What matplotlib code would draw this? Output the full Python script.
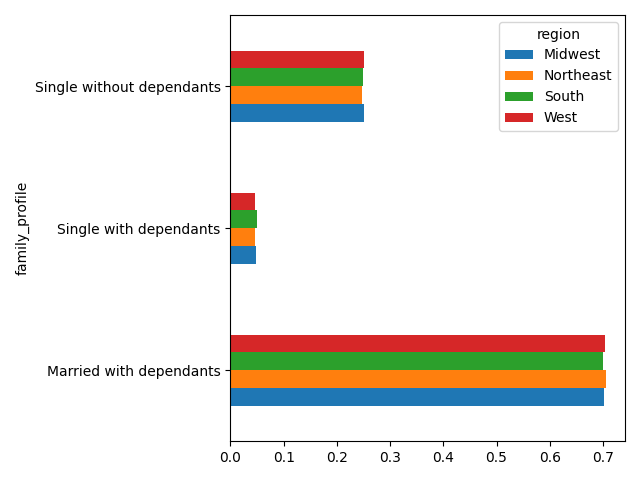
import pandas as pd
import matplotlib.pyplot as plt

family_profile = ["Married with dependants", "Single with dependants", "Single without dependants"]
midwest = [0.701, 0.048, 0.251]
northeast = [0.706, 0.047, 0.247]
south = [0.700, 0.050, 0.250]
west = [0.703, 0.046, 0.251]

df = pd.DataFrame({"Midwest": midwest, "Northeast": northeast, "South": south, "West": west},
                  index=pd.Index(family_profile, name="family_profile"))
df.columns.name = "region"

fig, ax = plt.subplots(figsize=(6.4, 4.8), dpi=100)
df.plot(kind="barh", ax=ax)
plt.tight_layout()
plt.savefig("out.png")
